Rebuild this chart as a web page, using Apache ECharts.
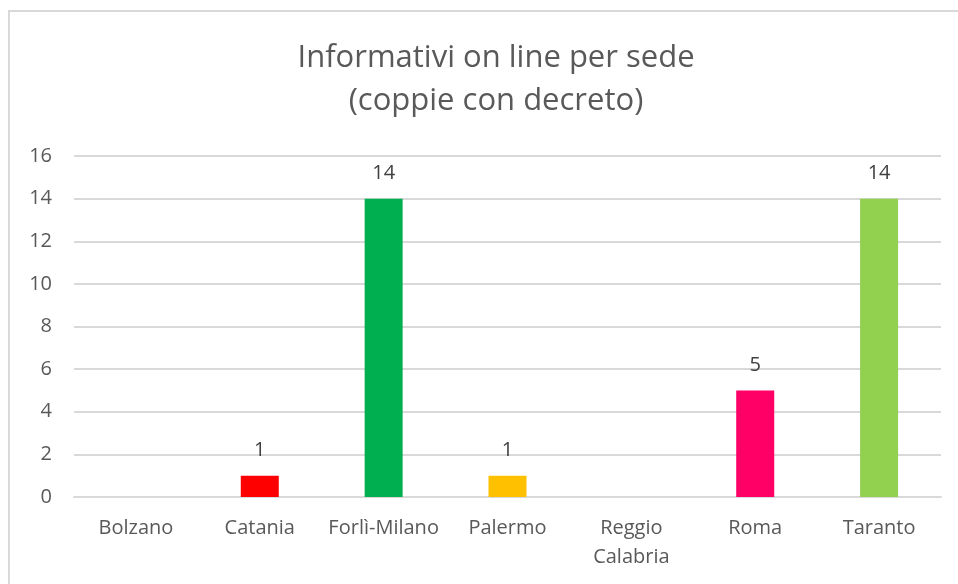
<!DOCTYPE html>
<html lang="it">
<head>
    <meta charset="UTF-8">
    <title>Informativi on line per sede</title>
    <script src="https://cdn.jsdelivr.net/npm/echarts@6/dist/echarts.min.js"></script>
    <style>
        html, body { margin: 0; padding: 0; background: #fff; overflow: hidden; }
        #frame {
            position: absolute; left: 8px; top: 10px; width: 980px; height: 600px;
            border: 2px solid #d9d9d9; box-sizing: border-box;
        }
        #chart { position: absolute; left: 0; top: 0; width: 958px; height: 584px; }
    </style>
</head>
<body>
    <div id="frame"></div>
    <div id="chart"></div>

<script>
    // dati
    var sedi = ['Bolzano', 'Catania', 'Forlì-Milano', 'Palermo', 'Reggio\nCalabria', 'Roma', 'Taranto'];
    var valori = [null, 1, 14, 1, null, 5, 14];
    var colori = ['#4472c4', '#ff0000', '#00b050', '#ffc000', '#4472c4', '#ff0066', '#92d050'];

    var myChart = echarts.init(document.getElementById('chart'));

    var option = {
        animation: false,
        textStyle: { fontFamily: '"Open Sans", sans-serif' },
        title: {
            text: 'Informativi on line per sede\n(coppie con decreto)',
            left: 491,
            textAlign: 'center',
            top: 32,
            textStyle: {
                color: '#595959',
                fontSize: 31,
                fontWeight: 'normal',
                lineHeight: 43
            }
        },
        grid: {
            left: 74,
            right: 17,
            top: 156,
            bottom: 87
        },
        xAxis: {
            type: 'category',
            data: sedi,
            axisLine: { lineStyle: { color: '#d9d9d9', width: 2 } },
            axisTick: { show: false },
            axisLabel: {
                color: '#595959',
                fontSize: 20,
                margin: 17,
                lineHeight: 29,
                interval: 0
            }
        },
        yAxis: {
            type: 'value',
            min: 0,
            max: 16,
            interval: 2,
            axisLine: { show: false },
            axisTick: { show: false },
            axisLabel: { color: '#595959', fontSize: 20, margin: 22 },
            splitLine: { lineStyle: { color: '#d9d9d9', width: 2 } }
        },
        series: [
            {
                type: 'bar',
                barWidth: 38,
                data: valori.map(function (v, i) {
                    return { value: v, itemStyle: { color: colori[i] } };
                }),
                label: {
                    show: true,
                    position: 'top',
                    distance: 15,
                    color: '#404040',
                    fontSize: 20
                }
            }
        ]
    };
    myChart.setOption(option);
</script>
</body>
</html>
